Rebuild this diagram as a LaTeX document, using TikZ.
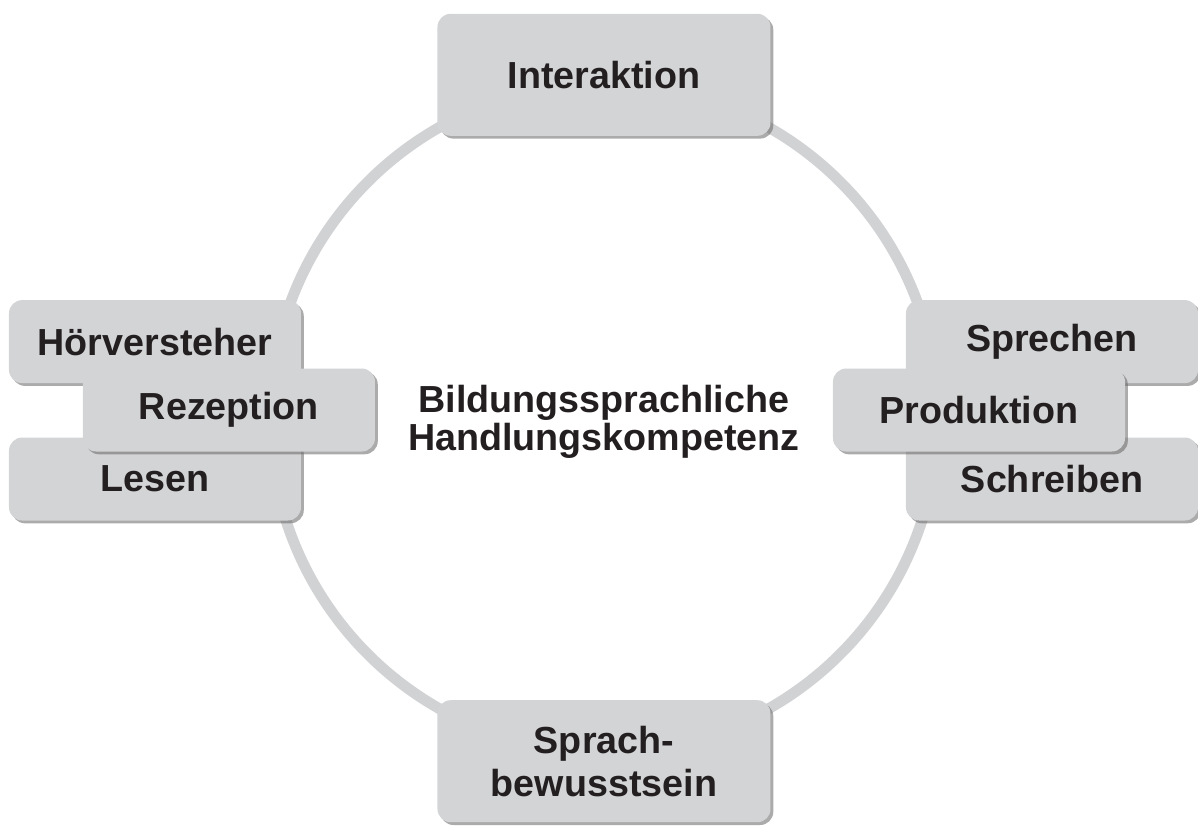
\documentclass[tikz,border=0pt]{standalone}
\usepackage{fontspec}
\setmainfont{Liberation Sans}
\usetikzlibrary{shadows}
\definecolor{kastengrau}{RGB}{211,212,214}
\definecolor{ringgrau}{RGB}{209,210,212}
\definecolor{schrift}{RGB}{35,31,32}

\begin{document}
\begin{tikzpicture}[
    kasten/.style={fill=kastengrau, rounded corners=0.33cm, minimum width=7.3cm,
        minimum height=2.075cm, inner sep=0pt, align=center, text=schrift,
        font=\fontsize{26.8}{30.5}\selectfont\bfseries,
        drop shadow={shadow xshift=0.07cm, shadow yshift=-0.07cm, fill=black!60, opacity=0.55}},
    grosskasten/.style={kasten, minimum width=8.325cm, minimum height=3.05cm}
]

    \useasboundingbox (-15.1,-10.175) rectangle (14.85,10.45);

    % ring
    \coordinate (mitte) at (0,0);
    \draw[ringgrau, line width=0.27cm] (mitte) circle (8.35);

    % competence in the middle
    \node[align=center, text=schrift, font=\fontsize{26.8}{27}\selectfont\bfseries] (kompetenz) at (0,-0.1) {Bildungssprachliche\\Handlungskompetenz};

    % interaction
    \node[grosskasten] (interaktion) at (0,8.58) {Interaktion};

    % language awareness
    \node[grosskasten] (bewusstsein) at (0,-8.58) {Sprach-\\bewusstsein};

    % reception with listening and reading
    \node[kasten] (hoeren) at (-11.225,1.91) {Hörversteher};
    \node[kasten] (lesen) at (-11.225,-1.525) {Lesen};
    \node[kasten] (rezeption) at (-9.375,0.2) {Rezeption};

    % production with speaking and writing
    \node[kasten] (sprechen) at (11.2,1.91) {Sprechen};
    \node[kasten] (schreiben) at (11.2,-1.525) {Schreiben};
    \node[kasten] (produktion) at (9.375,0.2) {Produktion};

\end{tikzpicture}
\end{document}
